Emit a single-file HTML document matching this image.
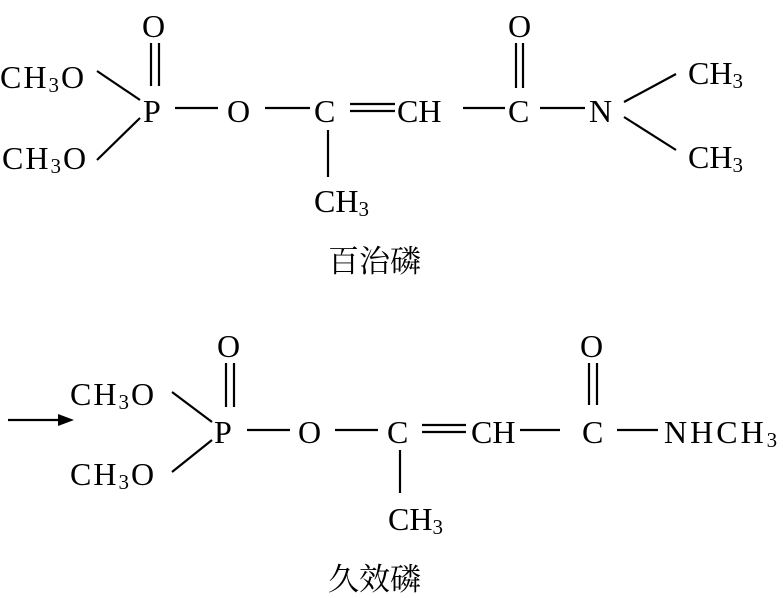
<!DOCTYPE html>
<html><head><meta charset="utf-8"><style>
body{margin:0;background:#fff}
svg text{font-family:"Liberation Serif","Noto Serif CJK SC",serif;font-size:32px;fill:#000}
.s{font-size:21px}
.cn{font-family:"Noto Serif CJK SC","Noto Sans CJK SC",serif;font-size:31px}
</style></head><body>
<svg width="783" height="593" viewBox="0 0 783 593" xmlns="http://www.w3.org/2000/svg" stroke="#000" stroke-width="2.2">
<g stroke="none">
<text x="142" y="37">O</text>
<text x="0" y="88" letter-spacing="2">CH<tspan class="s" dy="4">3</tspan><tspan dy="-4">O</tspan></text>
<text x="2" y="169" letter-spacing="2">CH<tspan class="s" dy="4">3</tspan><tspan dy="-4">O</tspan></text>
<text x="143" y="122">P</text>
<text x="227" y="122">O</text>
<text x="314" y="122">C</text>
<text x="397" y="122">CH</text>
<text x="508" y="122">C</text>
<text x="508" y="37">O</text>
<text x="589" y="122">N</text>
<text x="688" y="84">CH<tspan class="s" dy="4">3</tspan></text>
<text x="688" y="168">CH<tspan class="s" dy="4">3</tspan></text>
<text x="314" y="212">CH<tspan class="s" dy="4">3</tspan></text>
<text class="cn" x="328" y="272">百治磷</text>

<text x="217" y="357">O</text>
<text x="70" y="405" letter-spacing="2">CH<tspan class="s" dy="4">3</tspan><tspan dy="-4">O</tspan></text>
<text x="70" y="485" letter-spacing="2">CH<tspan class="s" dy="4">3</tspan><tspan dy="-4">O</tspan></text>
<text x="214" y="443">P</text>
<text x="298" y="443">O</text>
<text x="387" y="443">C</text>
<text x="471" y="443">CH</text>
<text x="582" y="443">C</text>
<text x="580" y="357">O</text>
<text x="664" y="443" letter-spacing="3">NHCH<tspan class="s" dy="4">3</tspan></text>
<text x="388" y="530">CH<tspan class="s" dy="4">3</tspan></text>
<text class="cn" x="328" y="590">久效磷</text>
</g>
<line x1="151" y1="43" x2="151" y2="86"/><line x1="159" y1="43" x2="159" y2="86"/>
<line x1="97" y1="71" x2="140" y2="100"/>
<line x1="97" y1="160" x2="140" y2="118"/>
<line x1="175" y1="108" x2="218" y2="108"/>
<line x1="265" y1="108" x2="310" y2="108"/>
<line x1="350" y1="104" x2="395" y2="104"/><line x1="350" y1="111" x2="395" y2="111"/>
<line x1="463" y1="108" x2="505" y2="108"/>
<line x1="516" y1="43" x2="516" y2="88"/><line x1="523" y1="43" x2="523" y2="88"/>
<line x1="540" y1="108" x2="585" y2="108"/>
<line x1="624" y1="102" x2="676" y2="74"/>
<line x1="624" y1="117" x2="676" y2="150"/>
<line x1="328" y1="130" x2="328" y2="177"/>
<line x1="8" y1="420" x2="62" y2="420"/>
<polygon points="74,420 58,414 58,426" fill="#000" stroke="none"/>
<line x1="226" y1="363" x2="226" y2="407"/><line x1="234" y1="363" x2="234" y2="407"/>
<line x1="172" y1="392" x2="212" y2="422"/>
<line x1="172" y1="472" x2="212" y2="440"/>
<line x1="247" y1="430" x2="290" y2="430"/>
<line x1="335" y1="430" x2="378" y2="430"/>
<line x1="422" y1="425" x2="466" y2="425"/><line x1="422" y1="432" x2="466" y2="432"/>
<line x1="520" y1="430" x2="560" y2="430"/>
<line x1="589" y1="363" x2="589" y2="405"/><line x1="597" y1="363" x2="597" y2="405"/>
<line x1="617" y1="430" x2="658" y2="430"/>
<line x1="400" y1="450" x2="400" y2="493"/>
</svg>
</body></html>
